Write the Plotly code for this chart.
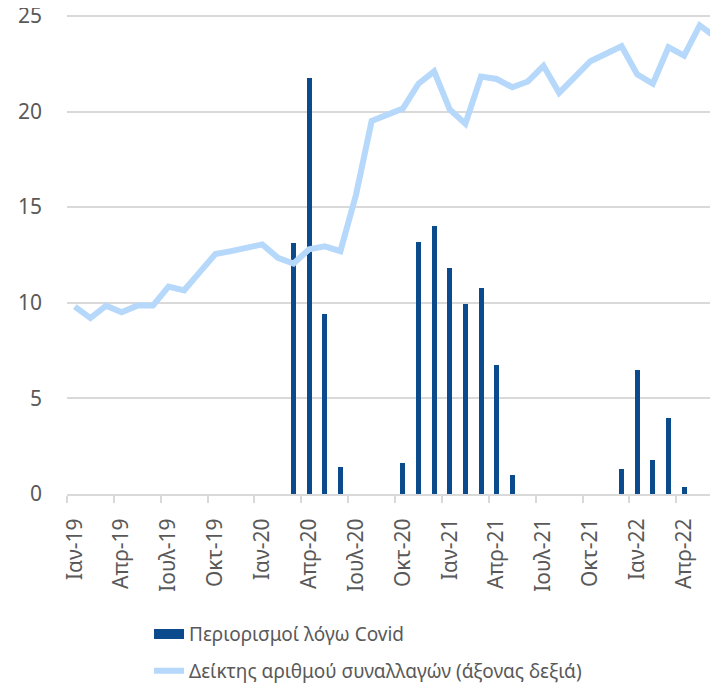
import plotly.graph_objects as go

months = ["Ιαν", "Φεβ", "Μαρ", "Απρ", "Μαϊ", "Ιουν", "Ιουλ", "Αυγ", "Σεπ", "Οκτ", "Νοε", "Δεκ"]
categories = [f"{m}-{y}" for y in ["19", "20", "21", "22"] for m in months][:42]  # Jan-19 .. Jun-22

restrictions = [
    0, 0, 0, 0, 0, 0, 0, 0, 0, 0, 0, 0,            # 2019
    0, 0, 13.1, 21.75, 9.4, 1.4, 0, 0, 0, 1.6, 13.2, 14.0,   # 2020
    11.8, 9.95, 10.75, 6.75, 1.0, 0, 0, 0, 0, 0, 0, 1.3,     # 2021
    6.5, 1.8, 3.95, 0.35, 0, 0,                    # 2022
]

transactions = [
    9.8, 9.2, 9.85, 9.5, 9.85, 9.85, 10.85, 10.65, 11.6, 12.55, 12.7, 12.84,   # 2019
    13.05, 12.35, 12.05, 12.8, 12.95, 12.7, 15.65, 19.5, 19.83, 20.15, 21.45, 22.1,  # 2020
    20.1, 19.36, 21.83, 21.7, 21.27, 21.57, 22.39, 20.98, 21.8, 22.63, 23.02, 23.41,  # 2021
    21.94, 21.45, 23.36, 22.92, 24.5, 23.9,      # 2022
]

tick_labels = ["Ιαν-19", "Απρ-19", "Ιουλ-19", "Οκτ-19", "Ιαν-20", "Απρ-20", "Ιουλ-20",
               "Οκτ-20", "Ιαν-21", "Απρ-21", "Ιουλ-21", "Οκτ-21", "Ιαν-22", "Απρ-22"]

name_bars = "Περιορισμοί λόγω Covid"
name_line = "Δείκτης αριθμού συναλλαγών (άξονας δεξιά)"

idx = list(range(len(categories)))
FONT = "Noto Sans"
GREY = "#595959"
GRID = "#d9d9d9"
BAR = "#0b4a8c"
LINE = "#b5d8fb"

fig = go.Figure()
fig.add_trace(go.Bar(
    x=idx, y=restrictions, width=0.32, name=name_bars,
    marker=dict(color=BAR, line=dict(width=0)),
    showlegend=False, hovertext=categories,
))
# legend entry for bars (wide swatch)
fig.add_trace(go.Scatter(
    x=[None], y=[None], mode="lines", name=name_bars,
    line=dict(color=BAR, width=11), legendgroup="a",
))
fig.add_trace(go.Scatter(
    x=idx, y=transactions, mode="lines", name=name_line,
    line=dict(color=LINE, width=6), legendgroup="b", hovertext=categories,
))

# page body has an 8px default margin, so the figure is sized to fit the window
fig.update_layout(
    width=710, height=685,
    margin=dict(l=59, r=0, t=5, b=199, autoexpand=False),
    paper_bgcolor="white", plot_bgcolor="white",
    font=dict(family=FONT, size=19, color=GREY),
    legend=dict(
        orientation="v", x=0.126, xanchor="left", y=-0.252, yanchor="top",
        font=dict(family=FONT, size=19, color=GREY),
        tracegroupgap=9, bgcolor="rgba(0,0,0,0)",
    ),
    bargap=0,
)
fig.update_xaxes(
    range=[-0.5, 41.17], automargin=False,
    tickmode="array", tickvals=idx[::3], ticktext=tick_labels,
    tickangle=-90, ticks="", ticklabelstandoff=14,
    showgrid=False, zeroline=False,
    showline=True, linecolor=GRID, linewidth=2,
    minor=dict(tickmode="array", tickvals=[i - 0.5 for i in idx[::3]],
               ticks="outside", ticklen=7, tickcolor=GRID, tickwidth=2, showgrid=False),
    tickfont=dict(family=FONT, size=21, color=GREY),
)
fig.update_yaxes(
    range=[0, 25.15], automargin=False, tickmode="array", tickvals=[0, 5, 10, 15, 20, 25],
    showgrid=True, gridcolor=GRID, gridwidth=1.5, zeroline=False,
    ticks="", ticklabelstandoff=24, ticklabeloverflow="allow",
    tickfont=dict(family=FONT, size=21, color=GREY),
)

fig.write_html("out.html")
